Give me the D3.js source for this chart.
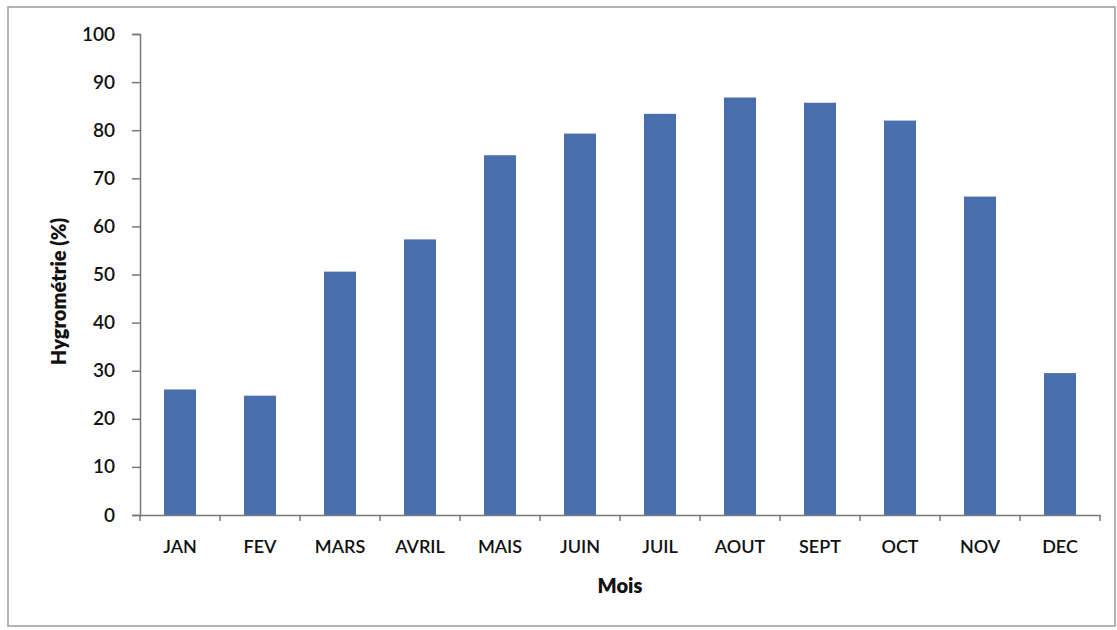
<!DOCTYPE html>
<html><head><meta charset="utf-8">
<script src="https://cdn.jsdelivr.net/npm/d3@7"></script>
<style>body{margin:0;background:#fff}svg{display:block}</style>
</head><body>
<script>
const categories = ["JAN","FEV","MARS","AVRIL","MAIS","JUIN","JUIL","AOUT","SEPT","OCT","NOV","DEC"];
const values = [26.1, 24.8, 50.6, 57.3, 74.8, 79.3, 83.4, 86.8, 85.7, 82.0, 66.2, 29.5];
const yTicks = [0,10,20,30,40,50,60,70,80,90,100];
const xTitle = "Mois";
const yTitle = "Hygrométrie (%)";

const W = 1117, H = 630;
const m = {left:140, right:17, top:34, bottom:115};
const svg = d3.select("body").append("svg").attr("width", W).attr("height", H);
svg.append("rect").attr("x",8).attr("y",7).attr("width",1107).attr("height",619)
  .attr("fill","#fff").attr("stroke","#9a9a9a").attr("stroke-width",1.5);

const x = d3.scaleBand().domain(categories).range([m.left, W - m.right]).paddingInner(0.6).paddingOuter(0.3);
const y = d3.scaleLinear().domain([0,100]).range([H - m.bottom, m.top]);
const font = "Lato, 'Open Sans', sans-serif";

svg.append("g").selectAll("rect").data(values).join("rect")
  .attr("x",(d,i)=>x(categories[i])).attr("width",x.bandwidth())
  .attr("y",d=>y(d)).attr("height",d=>y(0)-y(d)).attr("fill","#4a6fae");

const ya = svg.append("g").attr("transform",`translate(${m.left},0)`)
  .call(d3.axisLeft(y).tickValues(yTicks).tickSize(8).tickPadding(17));
ya.select(".domain").attr("stroke","#777").attr("stroke-width",1.5);
ya.selectAll(".tick line").attr("stroke","#777").attr("stroke-width",1.5);
ya.selectAll("text").attr("font-family",font).attr("font-size",19).attr("font-weight",600).attr("fill","#111");

// x axis with ticks at category boundaries
const step = x.step();
const xa = svg.append("g").attr("transform",`translate(0,${y(0)})`)
  .call(d3.axisBottom(x).tickSize(0).tickPadding(25));
xa.select(".domain").attr("stroke","#777").attr("stroke-width",1.5);
xa.selectAll("text").attr("font-family",font).attr("font-size",18).attr("font-weight",600).attr("fill","#111");
const bounds = d3.range(categories.length+1).map(i => m.left + i*step);
xa.selectAll(".bt").data(bounds).join("line").attr("class","bt")
  .attr("x1",d=>d).attr("x2",d=>d).attr("y1",0).attr("y2",6)
  .attr("stroke","#777").attr("stroke-width",1.5);

svg.append("text").attr("x",(m.left + W - m.right)/2).attr("y",593)
  .attr("text-anchor","middle").attr("font-family",font).attr("font-size",20).attr("font-weight",800)
  .attr("fill","#111").text(xTitle);
svg.append("text").attr("transform",`translate(66,${(m.top + H - m.bottom)/2 + 17}) rotate(-90)`)
  .attr("text-anchor","middle").attr("font-family",font).attr("font-size",20).attr("font-weight",800)
  .attr("fill","#111").text(yTitle);
</script>
</body></html>
